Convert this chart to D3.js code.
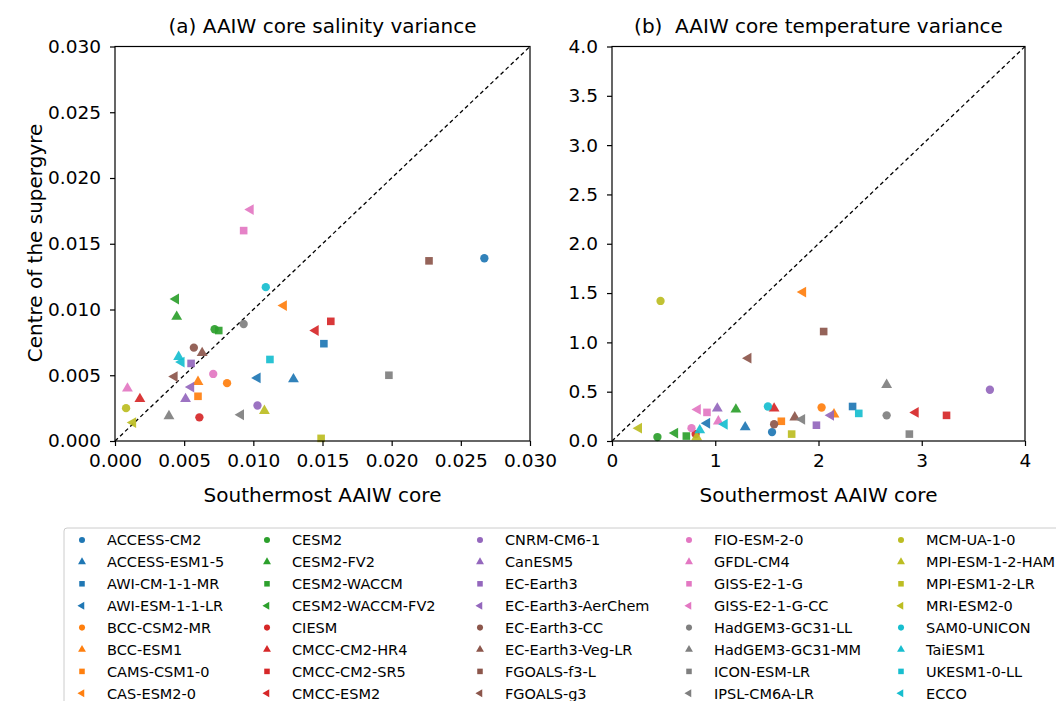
<!DOCTYPE html>
<meta charset="utf-8">
<script src="https://d3js.org/d3.v7.min.js"></script>
<style>
  body { margin: 0; background: #fff; }
  text { font-family: "DejaVu Sans", sans-serif; fill: #000; }
</style>
<svg width="1056" height="701"></svg>

<script>
// models, in legend order (colour = tab10 block of 4, marker = o ^ s <)
var models = ["ACCESS-CM2", "ACCESS-ESM1-5", "AWI-CM-1-1-MR", "AWI-ESM-1-1-LR",
  "BCC-CSM2-MR", "BCC-ESM1", "CAMS-CSM1-0", "CAS-ESM2-0",
  "CESM2", "CESM2-FV2", "CESM2-WACCM", "CESM2-WACCM-FV2",
  "CIESM", "CMCC-CM2-HR4", "CMCC-CM2-SR5", "CMCC-ESM2",
  "CNRM-CM6-1", "CanESM5", "EC-Earth3", "EC-Earth3-AerChem",
  "EC-Earth3-CC", "EC-Earth3-Veg-LR", "FGOALS-f3-L", "FGOALS-g3",
  "FIO-ESM-2-0", "GFDL-CM4", "GISS-E2-1-G", "GISS-E2-1-G-CC",
  "HadGEM3-GC31-LL", "HadGEM3-GC31-MM", "ICON-ESM-LR", "IPSL-CM6A-LR",
  "MCM-UA-1-0", "MPI-ESM-1-2-HAM", "MPI-ESM1-2-LR", "MRI-ESM2-0",
  "SAM0-UNICON", "TaiESM1", "UKESM1-0-LL", "ECCO"];

// (a) salinity variance
var salSouth = [0.0267, 0.0129, 0.0151, 0.0103,
  0.0081, 0.0060, 0.0060, 0.0122,
  0.0072, 0.00446, 0.0075, 0.0044,
  0.0061, 0.0018, 0.0156, 0.0145,
  0.0103, 0.0051, 0.0055, 0.0055,
  0.0057, 0.0063, 0.0227, 0.0043,
  0.0071, 0.0009, 0.0093, 0.0098,
  0.0093, 0.0039, 0.0198, 0.0091,
  0.0008, 0.0108, 0.0149, 0.0013,
  0.0109, 0.0046, 0.0112, 0.0048];
var salCentre = [0.0139, 0.0047, 0.0074, 0.0048,
  0.0044, 0.0045, 0.0034, 0.0103,
  0.0085, 0.00945, 0.0084, 0.0108,
  0.0018, 0.0032, 0.0091, 0.0084,
  0.0027, 0.0032, 0.0059, 0.0041,
  0.0071, 0.0067, 0.0137, 0.0049,
  0.0051, 0.0040, 0.0160, 0.0176,
  0.0089, 0.0019, 0.0050, 0.0020,
  0.0025, 0.0023, 0.0002, 0.0014,
  0.0117, 0.0064, 0.0062, 0.0060];

// (b) temperature variance
var tempSouth = [1.55, 1.29, 2.33, 0.92,
  2.03, 2.15, 1.64, 1.85,
  0.44, 1.20, 0.72, 0.61,
  0.81, 1.57, 3.24, 2.94,
  3.66, 1.02, 1.98, 2.12,
  1.57, 1.77, 2.05, 1.32,
  0.77, 1.03, 0.92, 0.83,
  2.66, 2.66, 2.88, 1.84,
  0.47, 0.82, 1.74, 0.26,
  1.51, 0.85, 2.39, 1.09];
var tempCentre = [0.09, 0.14, 0.35, 0.18,
  0.34, 0.27, 0.20, 1.51,
  0.04, 0.32, 0.05, 0.08,
  0.07, 0.33, 0.26, 0.29,
  0.52, 0.33, 0.16, 0.26,
  0.17, 0.24, 1.11, 0.84,
  0.13, 0.20, 0.29, 0.32,
  0.26, 0.57, 0.07, 0.22,
  1.42, 0.04, 0.07, 0.13,
  0.35, 0.11, 0.28, 0.17];

var salTicks = [0, 0.005, 0.010, 0.015, 0.020, 0.025, 0.030];
var tempXTicks = [0, 1, 2, 3, 4];
var tempYTicks = [0, 0.5, 1.0, 1.5, 2.0, 2.5, 3.0, 3.5, 4.0];

var svg = d3.select("svg");
var colors = d3.schemeCategory10;

function markerPath(i, size) {
  var k = i % 4;
  if (k === 0) return d3.symbol().type(d3.symbolCircle).size(size * 0.8)();
  if (k === 2) return d3.symbol().type(d3.symbolSquare).size(size * 0.85)();
  return d3.symbol().type(d3.symbolTriangle).size(size * 0.75)();
}
function markerRot(i) { return (i % 4 === 3) ? " rotate(-90)" : ""; }

function panel(opt) {
  var x = d3.scaleLinear().domain([0, opt.max]).range([opt.left, opt.right]);
  var y = d3.scaleLinear().domain([0, opt.max]).range([441, 46.5]);
  var g = svg.append("g");

  // 1:1 line
  g.append("line")
    .attr("x1", x(0)).attr("y1", y(0))
    .attr("x2", x(opt.max)).attr("y2", y(opt.max))
    .style("stroke", "#000").style("stroke-width", 1.3)
    .style("stroke-dasharray", "4,3");

  g.append("g")
    .selectAll("path")
    .data(models)
    .enter().append("path")
    .attr("d", function(d, i) { return markerPath(i, 68); })
    .attr("transform", function(d, i) {
      return "translate(" + x(opt.xs[i]) + "," + y(opt.ys[i]) + ")" + markerRot(i);
    })
    .style("fill", function(d, i) { return colors[Math.floor(i / 4)]; })
    .style("opacity", 0.92);

  var xAxis = g.append("g")
    .attr("transform", "translate(0,441)")
    .call(d3.axisBottom(x).tickValues(opt.xTicks).tickFormat(opt.xFmt).tickSize(5).tickPadding(8));
  var yAxis = g.append("g")
    .attr("transform", "translate(" + opt.left + ",0)")
    .call(d3.axisLeft(y).tickValues(opt.yTicks).tickFormat(opt.yFmt).tickSize(5).tickPadding(9));
  [xAxis, yAxis].forEach(function(a) {
    a.select(".domain").remove();
    a.selectAll("line").style("stroke", "#000").style("stroke-width", 1.2);
    a.selectAll("text").style("font-size", "18.5px").style("font-family", "DejaVu Sans");
  });

  // frame
  g.append("rect")
    .attr("x", opt.left).attr("y", 46.5)
    .attr("width", opt.right - opt.left).attr("height", 441 - 46.5)
    .style("fill", "none").style("stroke", "#000").style("stroke-width", 1.2);

  g.append("text")
    .attr("x", (opt.left + opt.right) / 2).attr("y", 33)
    .attr("text-anchor", "middle")
    .style("font-size", "20px")
    .style("white-space", "pre")
    .text(opt.title);

  g.append("text")
    .attr("x", (opt.left + opt.right) / 2).attr("y", 502)
    .attr("text-anchor", "middle")
    .style("font-size", "20px")
    .text("Southermost AAIW core");
}

panel({left: 115, right: 530, max: 0.030, xs: salSouth, ys: salCentre,
  xTicks: salTicks, yTicks: salTicks, xFmt: d3.format(".3f"), yFmt: d3.format(".3f"),
  title: "(a) AAIW core salinity variance"});
panel({left: 612, right: 1025, max: 4, xs: tempSouth, ys: tempCentre,
  xTicks: tempXTicks, yTicks: tempYTicks, xFmt: d3.format("d"), yFmt: d3.format(".1f"),
  title: "(b)  AAIW core temperature variance"});

svg.append("text")
  .attr("transform", "translate(42,243) rotate(-90)")
  .attr("text-anchor", "middle")
  .style("font-size", "20px")
  .text("Centre of the supergyre");

// legend, 5 columns of 8
var legend = svg.append("g");
legend.append("rect")
  .attr("x", 64).attr("y", 528)
  .attr("width", 1010).attr("height", 200)
  .attr("rx", 3)
  .style("fill", "#fff").style("stroke", "#ccc").style("stroke-width", 1);

var colMarker = [82, 267, 480, 689, 901];
var item = legend.selectAll("g.item")
  .data(models)
  .enter().append("g")
  .attr("class", "item")
  .attr("transform", function(d, i) {
    return "translate(" + colMarker[Math.floor(i / 8)] + "," + (540 + (i % 8) * 21.9) + ")";
  });
item.append("path")
  .attr("d", function(d, i) { return markerPath(i, 36); })
  .attr("transform", function(d, i) { return markerRot(i).trim(); })
  .style("fill", function(d, i) { return colors[Math.floor(i / 4)]; });
item.append("text")
  .attr("x", 25).attr("dy", "0.36em")
  .style("font-size", "14.5px")
  .text(function(d) { return d; });
</script>
